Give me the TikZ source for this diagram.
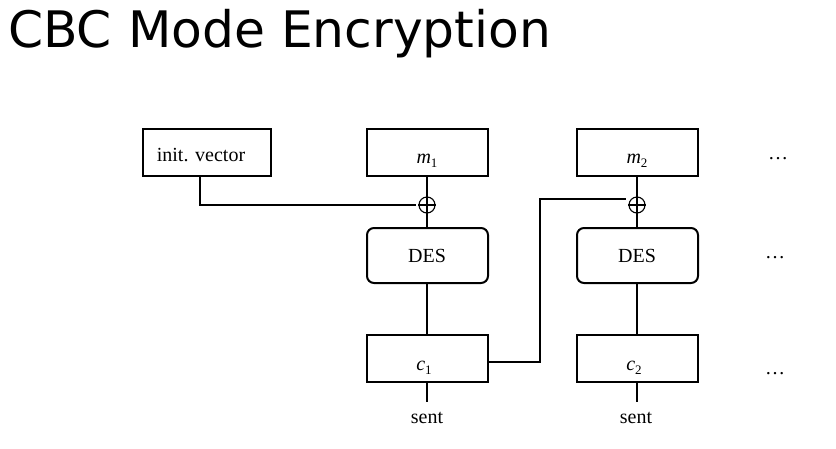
\documentclass[tikz,border=0pt]{standalone}
\usepackage{fontspec}
\setmainfont{Liberation Serif}
\newfontfamily\titlefont{DejaVu Sans}
\begin{document}
\begin{tikzpicture}[x=1pt,y=-1pt,
  blk/.style={draw,line width=2pt,minimum width=121pt,minimum height=47pt,inner sep=0pt},
  rblk/.style={blk,rounded corners=7pt,minimum height=55pt},
  lbl/.style={font=\fontsize{20}{24}\selectfont,inner sep=0pt},
  xorn/.style={circle,draw,line width=1.1pt,minimum size=16pt,inner sep=0pt},
  xline/.style={line width=1.1pt},
  wire/.style={line width=2pt}]
\useasboundingbox (0,0) rectangle (836,448);
\node[anchor=base west,inner sep=0pt,font=\titlefont\fontsize{50.3}{58}\selectfont] (title) at (8,47) {CBC Mode Encryption};
% boxes
\node[blk,minimum width=128pt] (iv) at (207,152.5) {};
\node[lbl] (ivt) at (201,155) {init. vector};
\node[blk] (m1) at (427.5,152.5) {};
\node[lbl] (m1t) at (427,161) {\textit{m}\raisebox{-0.45ex}{\fontsize{13}{14}\selectfont 1}};
\node[blk] (m2) at (637.5,152.5) {};
\node[lbl] (m2t) at (637,161) {\textit{m}\raisebox{-0.45ex}{\fontsize{13}{14}\selectfont 2}};
\node[xorn] (x1) at (427,205) {};
\node[xorn] (x2) at (637,205) {};
\draw[xline] (x1.north) -- (x1.south) (x1.west) -- (x1.east);
\draw[xline] (x2.north) -- (x2.south) (x2.west) -- (x2.east);
\node[rblk] (d1) at (427.5,255.5) {};
\node[lbl] (d1t) at (427,256) {DES};
\node[rblk] (d2) at (637.5,255.5) {};
\node[lbl] (d2t) at (637,256) {DES};
\node[blk] (c1) at (427.5,358.5) {};
\node[lbl] (c1t) at (424,368) {\textit{c}\raisebox{-0.45ex}{\fontsize{13}{14}\selectfont 1}};
\node[blk] (c2) at (637.5,358.5) {};
\node[lbl] (c2t) at (634,368) {\textit{c}\raisebox{-0.45ex}{\fontsize{13}{14}\selectfont 2}};
\node[lbl] (s1) at (427,418) {sent};
\node[lbl] (s2) at (636,418) {sent};
\node[lbl] (e1) at (778,159) {\dots};
\node[lbl] (e2) at (775,258) {\dots};
\node[lbl] (e3) at (775,374) {\dots};
\coordinate (s1t) at (427,402);
\coordinate (s2t) at (637,402);
% wires
\draw[wire] (m1.south -| x1) -- ([yshift=-2pt]x1.north);
\draw[wire] ([yshift=2pt]x1.south) -- (d1.north -| x1);
\draw[wire] (d1.south -| x1) -- (c1.north -| x1);
\draw[wire] (c1.south -| x1) -- (s1t);
\draw[wire] (m2.south -| x2) -- ([yshift=-2pt]x2.north);
\draw[wire] ([yshift=2pt]x2.south) -- (d2.north -| x2);
\draw[wire] (d2.south -| x2) -- (c2.north -| x2);
\draw[wire] (c2.south -| x2) -- (s2t);
\draw[wire] (200,176) |- ([xshift=-2pt]x1.west);
\draw[wire] (c1.east |- 0,362) -| (540,199) -- ([xshift=-2pt]x2.west |- 0,199);
\end{tikzpicture}
\end{document}
